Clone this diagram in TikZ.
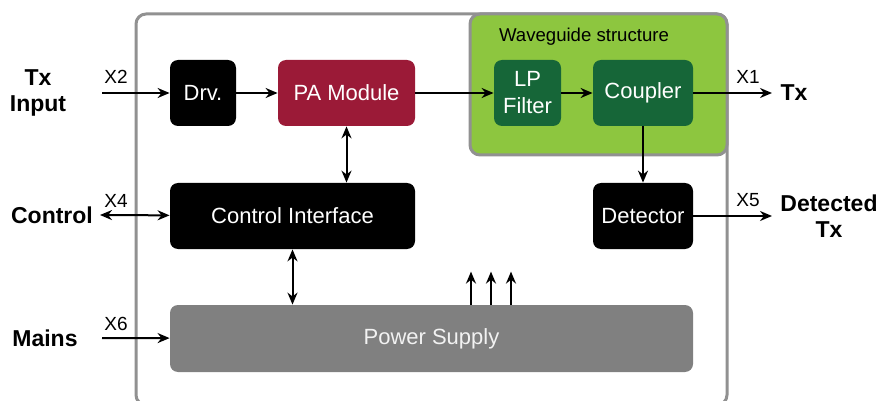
\documentclass[tikz,border=0pt]{standalone}
\usepackage{fontspec}
\setmainfont{Liberation Sans}
\usetikzlibrary{arrows.meta}
\definecolor{pared}{RGB}{155,26,55}
\definecolor{wgreen}{RGB}{141,198,63}
\definecolor{dgreen}{RGB}{22,102,56}
\definecolor{psgray}{RGB}{128,128,128}
\definecolor{framegray}{RGB}{145,145,145}
\begin{document}
\begin{tikzpicture}[x=0.5pt, y=-0.5pt, >={Stealth[length=6pt,width=5pt]}, line join=round,
    blk/.style={rounded corners=4pt, inner sep=0pt, minimum height=33pt, text=white, align=center, font=\fontsize{11}{13.5}\selectfont},
    port/.style={font=\fontsize{9.5}{11}\selectfont},
    ext/.style={align=center, font=\bfseries\fontsize{11.5}{13}\selectfont},
    wire/.style={line width=1pt}]
    \useasboundingbox (0,0) rectangle (879,401);
    % frames
    \draw [framegray, line width=1.5pt, rounded corners=5pt] (136,14) rectangle (727,405);
    \draw [framegray, fill=wgreen, line width=1.5pt, rounded corners=5pt] (470,14) rectangle (727,155);
    \node [anchor=west, font=\fontsize{9.3}{11}\selectfont] (wglbl) at (492,37) {Waveguide structure};
    % blocks
    \node [blk, fill=black, minimum width=33pt] (drv) at (203,93) {Drv.};
    \node [blk, fill=pared, minimum width=68.5pt] (pa) at (346.5,93) {PA Module};
    \node [blk, fill=dgreen, minimum width=33.5pt] (lp) at (527.5,93) {LP\\Filter};
    \node [blk, fill=dgreen, minimum width=50pt] (cpl) at (643,93) {Coupler};
    \node [blk, fill=black, minimum width=122.5pt] (ci) at (292.5,216) {Control Interface};
    \node [blk, fill=black, minimum width=50pt] (det) at (643,216) {Detector};
    \node [blk, fill=psgray, text=white!90!gray, minimum width=261.5pt, minimum height=33.5pt] (ps) at (431.5,338.5) {Power Supply};
    % outside labels
    \node [ext] (txin) at (38,93) {Tx\\Input};
    \node [ext] (ctrl) at (52,215) {Control};
    \node [ext] (mains) at (45,338) {Mains};
    \node [ext] (txout) at (794,93) {Tx};
    \node [ext] (dettx) at (829,216) {Detected\\Tx};
    \coordinate (inTx) at (102,93);
    \coordinate (inCtrl) at (100,215);
    \coordinate (inMains) at (102,338);
    \coordinate (outTx) at (772,93);
    \coordinate (outDet) at (772,216);
    \path (116,77) node[port] (x2) {X2} (116,201) node[port] (x4) {X4} (116,324) node[port] (x6) {X6};
    \path (748,77) node[port] (x1) {X1} (748,200) node[port] (x5) {X5};
    % signal paths
    \draw [->, wire] (inTx) -- (drv);
    \draw [->, wire] (drv) -- (pa);
    \draw [->, wire] (pa) -- (lp);
    \draw [->, wire] (lp) -- (cpl);
    \draw [->, wire] (cpl) -- (outTx);
    \draw [->, wire] (cpl) -- (det);
    \draw [->, wire] (det) -- (outDet);
    \draw [<->, wire] (inCtrl) -- (ci);
    \draw [<->, wire] (pa.south) -- (pa.south |- ci.north);
    \draw [<->, wire] (ci.south) -- (ci.south |- ps.north);
    \draw [->, wire] (inMains) -- (ps);
    \foreach \x in {471,491,511} \draw [->, wire] (ps.north -| \x,0) -- ++(0,-33);
\end{tikzpicture}
\end{document}
